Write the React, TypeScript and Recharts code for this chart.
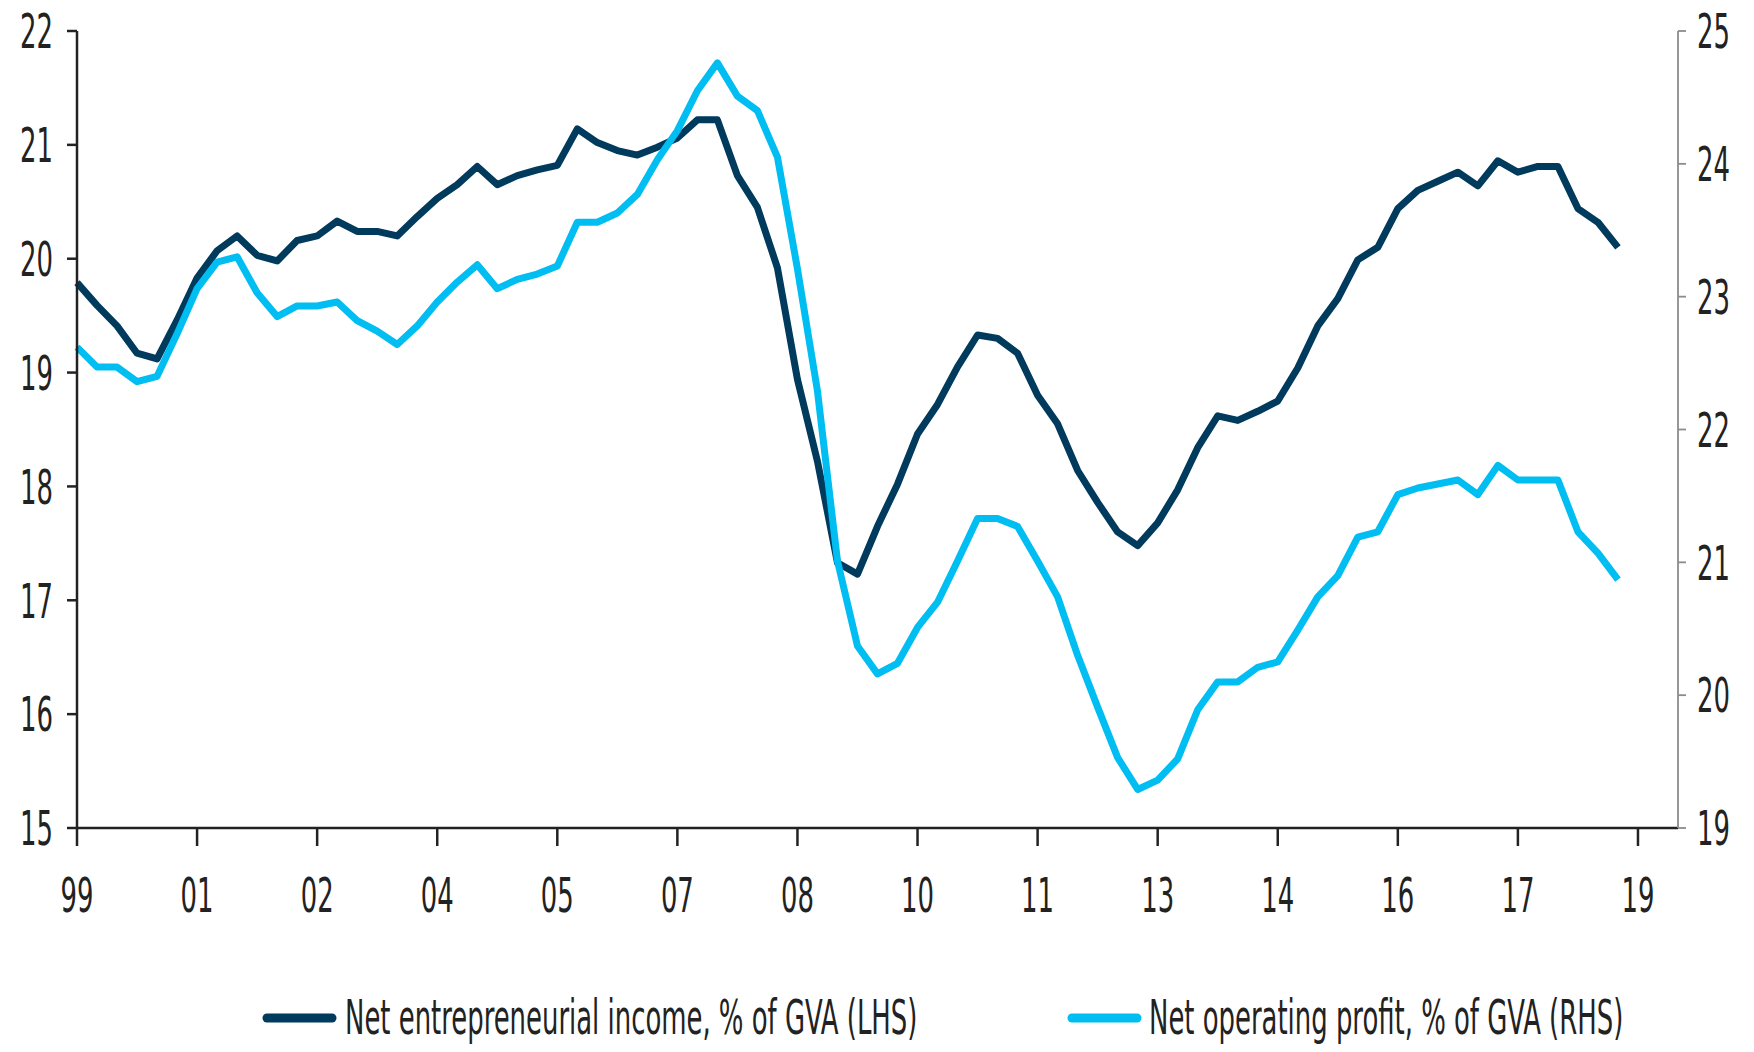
import { LineChart, Line, XAxis, YAxis, Legend } from 'recharts'

// quarterly, starting 1999Q4
const incomeShare = [
  19.79, 19.59, 19.41, 19.17, 19.12, 19.46, 19.83, 20.07, 20.2, 20.03,
  19.98, 20.16, 20.2, 20.33, 20.24, 20.24, 20.2, 20.37, 20.53, 20.65,
  20.81, 20.65, 20.73, 20.78, 20.82, 21.14, 21.02, 20.95, 20.91, 20.98,
  21.06, 21.22, 21.22, 20.73, 20.45, 19.92, 18.94, 18.22, 17.33, 17.23,
  17.65, 18.02, 18.46, 18.72, 19.05, 19.33, 19.3, 19.17, 18.8, 18.55,
  18.14, 17.86, 17.6, 17.48, 17.68, 17.97, 18.34, 18.62, 18.58, 18.66,
  18.75, 19.04, 19.41, 19.65, 19.99, 20.1, 20.44, 20.6, 20.68, 20.76,
  20.64, 20.86, 20.76, 20.81, 20.81, 20.44, 20.32, 20.1,
]

const profitShare = [
  22.62, 22.47, 22.47, 22.36, 22.4, 22.72, 23.06, 23.26, 23.3, 23.03,
  22.85, 22.93, 22.93, 22.96, 22.82, 22.74, 22.64, 22.78, 22.96, 23.11,
  23.24, 23.06, 23.13, 23.17, 23.23, 23.56, 23.56, 23.63, 23.77, 24.03,
  24.25, 24.55, 24.76, 24.51, 24.4, 24.05, 23.21, 22.29, 21.01, 20.37,
  20.16, 20.24, 20.51, 20.7, 21.01, 21.33, 21.33, 21.27, 21.01, 20.74,
  20.3, 19.91, 19.53, 19.29, 19.36, 19.52, 19.89, 20.1, 20.1, 20.21,
  20.25, 20.49, 20.74, 20.9, 21.19, 21.23, 21.51, 21.56, 21.59, 21.62,
  21.51, 21.73, 21.62, 21.62, 21.62, 21.23, 21.07, 20.87,
]

const xLabels = ['99', '01', '02', '04', '05', '07', '08', '10', '11', '13', '14', '16', '17', '19']
const leftTicks = [15, 16, 17, 18, 19, 20, 21, 22]
const rightTicks = [19, 20, 21, 22, 23, 24, 25]

const seriesNames = {
  income: 'Net entrepreneurial income, % of GVA (LHS)',
  profit: 'Net operating profit, % of GVA (RHS)',
}

const DARK = '#003a5c'
const LIGHT = '#00bdf2'
const FONT = "'Liberation Sans Narrow', 'Arial Narrow', 'DejaVu Sans Condensed', 'Liberation Sans', sans-serif"
const FS = 48
const SQUEEZE = 0.6 // the source font is a very narrow one

const data = incomeShare.map((v, i) => ({ q: i, income: v, profit: profitShare[i] }))
const xTicks = xLabels.map((_, i) => i * 6)

// narrow text: draw at full height, squeeze horizontally round the anchor point
function NarrowText({ x, y, anchor, dy, children }: any) {
  return (
    <g transform={`translate(${x},${y}) scale(${SQUEEZE},1)`}>
      <text x={0} y={0} dy={dy} textAnchor={anchor} fontSize={FS} fontFamily={FONT} fill="#222">
        {children}
      </text>
    </g>
  )
}

const xTick = (p: any) => (
  <NarrowText x={p.x} y={p.y} anchor="middle" dy="0.71em">{xLabels[p.payload.value / 6]}</NarrowText>
)
const leftTick = (p: any) => (
  <NarrowText x={p.x} y={p.y} anchor="end" dy="0.36em">{p.payload.value}</NarrowText>
)
const rightTick = (p: any) => (
  <NarrowText x={p.x} y={p.y} anchor="start" dy="0.36em">{p.payload.value}</NarrowText>
)

function LegendRow() {
  return (
    <svg width={1754} height={70}>
      <line x1={267} x2={332} y1={36} y2={36} stroke={DARK} strokeWidth={9} strokeLinecap="round" />
      <NarrowText x={345} y={52} anchor="start">{seriesNames.income}</NarrowText>
      <line x1={1072} x2={1137} y1={36} y2={36} stroke={LIGHT} strokeWidth={9} strokeLinecap="round" />
      <NarrowText x={1149} y={52} anchor="start">{seriesNames.profit}</NarrowText>
    </svg>
  )
}

export default function App() {
  return (
    <div style={{ position: 'absolute', left: 0, top: 0, background: '#fff' }}>
      <LineChart width={1754} height={1052} data={data} margin={{ top: 31, right: 0, left: 0, bottom: 0 }}>
        <XAxis
          dataKey="q"
          type="number"
          domain={[0, 80]}
          ticks={xTicks}
          height={154}
          tickSize={18}
          tickMargin={32}
          stroke="#222"
          strokeWidth={2.5}
          tick={xTick}
          interval={0}
        />
        <YAxis
          yAxisId="left"
          domain={[15, 22]}
          ticks={leftTicks}
          width={77}
          tickSize={10}
          tickMargin={14}
          stroke="#222"
          strokeWidth={2.5}
          tick={leftTick}
          interval={0}
        />
        <YAxis
          yAxisId="right"
          orientation="right"
          domain={[19, 25]}
          ticks={rightTicks}
          width={76}
          tickSize={8}
          tickMargin={11}
          stroke="#8c8c8c"
          strokeWidth={1.8}
          tick={rightTick}
          interval={0}
        />
        <Legend verticalAlign="bottom" height={70} content={() => <LegendRow />} wrapperStyle={{ left: 0, width: 1754 }} />
        <Line
          yAxisId="left"
          dataKey="income"
          name={seriesNames.income}
          stroke={DARK}
          strokeWidth={7}
          strokeLinejoin="round"
          dot={false}
          isAnimationActive={false}
        />
        <Line
          yAxisId="right"
          dataKey="profit"
          name={seriesNames.profit}
          stroke={LIGHT}
          strokeWidth={7}
          strokeLinejoin="round"
          dot={false}
          isAnimationActive={false}
        />
      </LineChart>
    </div>
  )
}
